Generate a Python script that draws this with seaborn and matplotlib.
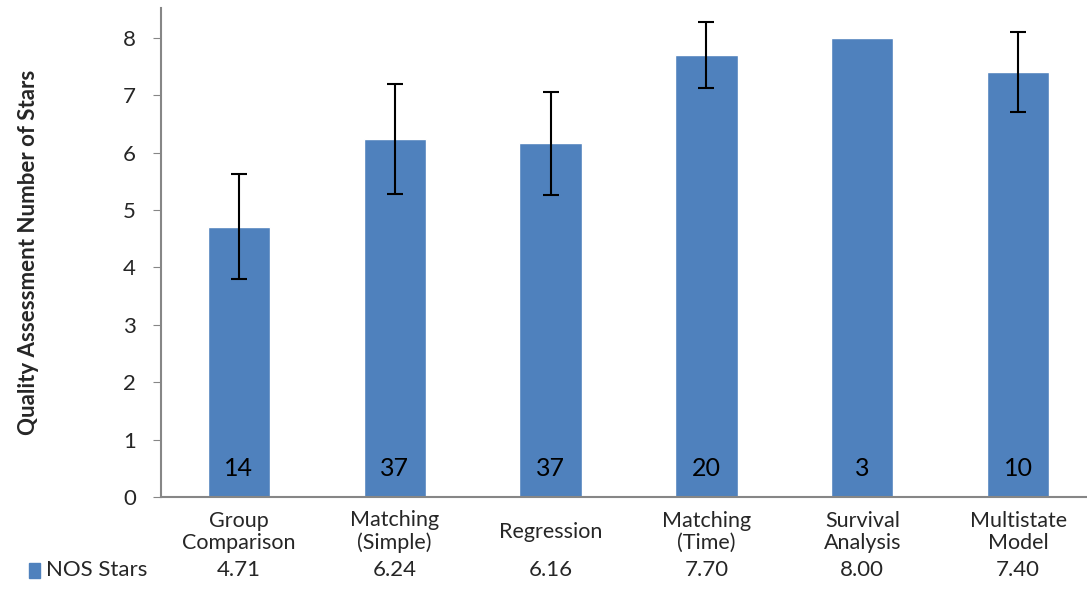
#!/usr/bin/env python3

import numpy as np
import pandas as pd
import seaborn as sns
from matplotlib import pyplot as plt
from matplotlib import transforms
from matplotlib.patches import Rectangle

categories = ['Group\nComparison', 'Matching\n(Simple)', 'Regression',
              'Matching\n(Time)', 'Survival\nAnalysis', 'Multistate\nModel']
nos_stars = [4.71, 6.24, 6.16, 7.70, 8.00, 7.40]
errors = [0.91, 0.96, 0.90, 0.57, 0.0, 0.70]
counts = [14, 37, 37, 20, 3, 10]
series_name = 'NOS Stars'

BLUE = '#4F81BD'
GREY = '#868686'
FONT = ['Lato', 'DejaVu Sans']
FS = 16

sns.set_style('white')
plt.rcParams['font.family'] = FONT

df = pd.DataFrame({'method': categories, 'stars': nos_stars})

fig = plt.figure(figsize=(10.87, 6.08), dpi=100)
ax = fig.add_axes([161 / 1087, 1 - 497 / 608, 935 / 1087, 489 / 608])

sns.barplot(data=df, x='method', y='stars', color=BLUE, width=0.4,
            saturation=1, ax=ax, errorbar=None)
xs = np.arange(len(categories))
has_err = np.array(errors) > 0
ax.errorbar(xs[has_err], np.array(nos_stars)[has_err],
            yerr=np.array(errors)[has_err], fmt='none', ecolor='black',
            elinewidth=1.5, capsize=6, capthick=1.5)

for x, c in zip(xs, counts):
    ax.text(x, 0.5, str(c), ha='center', va='center', fontsize=18,
            color='black')

ax.set_xlim(-0.5, len(categories) - 0.5)
ax.set_ylim(0, 8.52)
ax.set_yticks(range(0, 9))
ax.tick_params(axis='y', labelsize=FS, length=6, color=GREY, direction='out',
               left=True, pad=12)
ax.tick_params(axis='x', length=0, labelsize=15.5, pad=25)
ax.set_xticklabels(categories, linespacing=1.15)
for lab in ax.get_xticklabels():
    lab.set_verticalalignment('center')
ax.set_xlabel('')
ax.set_ylabel('Quality Assessment Number of Stars', fontsize=FS,
              fontweight='bold')
ax.yaxis.set_label_coords(-122 / 935, 0.5)
for side in ('top', 'right'):
    ax.spines[side].set_visible(False)
for side in ('left', 'bottom'):
    ax.spines[side].set_color(GREY)
    ax.spines[side].set_linewidth(1.5)

# data table row under the chart
yrow = 1 - 570 / 608
fig.patches.append(Rectangle((29 / 1087, yrow - 8 / 608), 11 / 1087, 15 / 608,
                             transform=fig.transFigure, color=BLUE))
fig.text(46 / 1087, yrow, series_name, fontsize=FS, va='center', ha='left')
row_trans = transforms.blended_transform_factory(ax.transData, fig.transFigure)
for x, v in zip(xs, nos_stars):
    ax.text(x, yrow, '{:.2f}'.format(v), fontsize=FS, ha='center',
            va='center', transform=row_trans)

fig.savefig('out.png', dpi=100)
